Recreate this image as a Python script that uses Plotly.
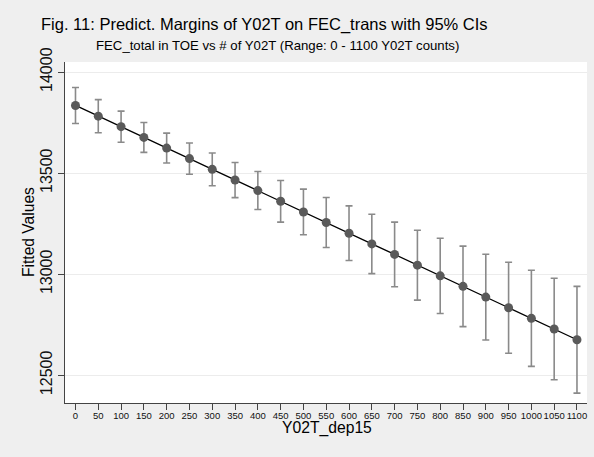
import plotly.graph_objects as go

# Y02T_dep15 values at which margins were predicted
x_vals = [0, 50, 100, 150, 200, 250, 300, 350, 400, 450, 500, 550,
          600, 650, 700, 750, 800, 850, 900, 950, 1000, 1050, 1100]

# predicted margins (fitted values)
margins = [13835, 13782, 13730, 13677, 13624, 13572, 13519, 13466,
           13414, 13361, 13308, 13256, 13203, 13150, 13098, 13045,
           12992, 12940, 12887, 12834, 12782, 12729, 12676]

# 95% CI bounds
ci_lo = [13746, 13700, 13653, 13603, 13550, 13495, 13438, 13379,
         13320, 13258, 13195, 13132, 13068, 13003, 12938, 12872,
         12806, 12741, 12675, 12609, 12544, 12478, 12412]
ci_hi = [13924, 13864, 13807, 13751, 13698, 13649, 13600, 13553,
         13508, 13464, 13421, 13380, 13338, 13297, 13258, 13218,
         13178, 13139, 13099, 13059, 13020, 12980, 12940]

y_ticks = [12500, 13000, 13500, 14000]

BG = "#efefef"
FONT = "Liberation Sans, Arial, Helvetica, sans-serif"

err_up = [h - m for h, m in zip(ci_hi, margins)]
err_dn = [m - l for m, l in zip(margins, ci_lo)]

fig = go.Figure()

fig.add_trace(go.Scatter(
    x=x_vals, y=margins,
    mode="lines",
    line=dict(color="#000000", width=1.3),
    hoverinfo="skip",
))

fig.add_trace(go.Scatter(
    x=x_vals, y=margins,
    mode="markers",
    marker=dict(color="#5a5a5a", size=9),
    error_y=dict(type="data", symmetric=False, array=err_up,
                 arrayminus=err_dn, color="#8a8a8a",
                 thickness=1.6, width=3.5),
))

# plot area in pixels: left 65, right 587, top 62, bottom 403
W, H = 522, 341


def px_x(px):
    return (px - 65) / W


def px_y(py):
    return (403 - py) / H


annotations = [
    dict(text="Fig. 11: Predict. Margins of Y02T on FEC_trans with 95% CIs",
         x=px_x(264), y=px_y(24), font=dict(size=16.5)),
    dict(text="FEC_total in TOE vs # of Y02T (Range: 0 - 1100 Y02T counts)",
         x=px_x(277), y=px_y(45), font=dict(size=13.2)),
    dict(text="Y02T_dep15",
         x=px_x(326.5), y=px_y(428), font=dict(size=15.7)),
    dict(text="Fitted Values", textangle=-90,
         x=px_x(28.5), y=0.5, font=dict(size=15.6)),
]
for a in annotations:
    a.update(xref="paper", yref="paper", xanchor="center", yanchor="middle",
             showarrow=False)
    a["font"].update(family=FONT, color="#000")

fig.update_layout(
    width=594, height=457,
    paper_bgcolor=BG,
    plot_bgcolor="#ffffff",
    showlegend=False,
    margin=dict(l=65, r=7, t=62, b=54),
    font=dict(family=FONT, color="#000"),
    annotations=annotations,
    xaxis=dict(
        range=[-23, 1122],
        tickmode="array", tickvals=x_vals, ticktext=[str(v) for v in x_vals],
        tickangle=0,
        tickfont=dict(size=9.5, color="#111"),
        ticks="outside", ticklen=6, tickcolor="#444", tickwidth=1,
        ticklabelstandoff=-3,
        showline=True, linecolor="#444", linewidth=1.2,
        showgrid=False, zeroline=False,
    ),
    yaxis=dict(
        range=[12363, 14050],
        tickmode="array", tickvals=y_ticks,
        ticktext=[str(v) for v in y_ticks],
        tickangle=-90,
        tickfont=dict(size=16, color="#111"),
        ticks="outside", ticklen=6, tickcolor="#444", tickwidth=1,
        showline=True, linecolor="#444", linewidth=1.2,
        showgrid=True, gridcolor="#ececec", gridwidth=1.2,
        zeroline=False,
    ),
)

fig.write_html(
    "out.html",
    config={"displayModeBar": False},
    post_script="document.body.style.margin='0';"
                "document.body.style.background='#efefef';"
                "document.body.style.overflow='hidden';",
)
